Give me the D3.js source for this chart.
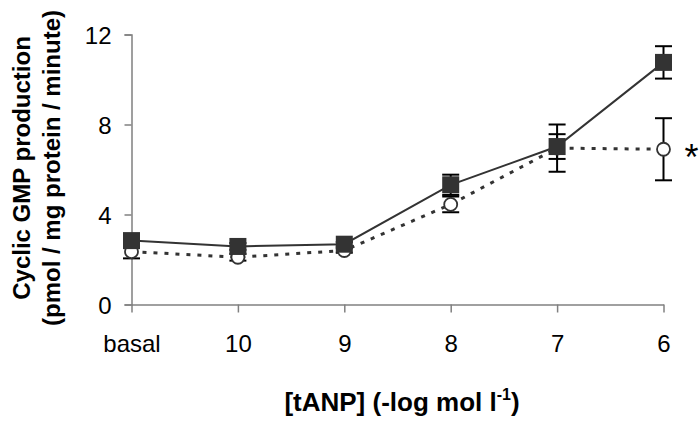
<!DOCTYPE html>
<html>
<head>
<meta charset="utf-8">
<script src="https://cdn.jsdelivr.net/npm/d3@7"></script>
<style>
  body { margin: 0; background: #fff; }
  svg { display: block; font-family: Arial, "Liberation Sans", sans-serif; }
</style>
</head>
<body>
<svg id="chart" width="699" height="441"></svg>
<script>
// concentrations of tANP (-log mol/l)
var doses = ['basal', '10', '9', '8', '7', '6'];
// filled squares, solid line
var seriesA = [2.84, 2.58, 2.68, 5.32, 7.02, 10.76];
var errA = [0.2, 0.15, 0.1, 0.45, 0.55, 0.72];
// open circles, dotted line
var seriesB = [2.35, 2.1, 2.4, 4.45, 6.95, 6.9];
var errB = [0.3, 0.15, 0.1, 0.35, 1.05, 1.38];
var yTicks = [0, 4, 8, 12];

var svg = d3.select('#chart');

var x = d3.scalePoint().domain(doses).range([131.5, 663.5]);
var y = d3.scaleLinear().domain([0, 12]).range([304.5, 34.5]);

var axisColor = '#808080';
var font = 'Arial, "Liberation Sans", sans-serif';

// y axis
var gy = svg.append('g').attr('transform', 'translate(131.5,0)')
  .call(d3.axisLeft(y).tickValues(yTicks).tickSize(7).tickPadding(13).tickFormat(d3.format('d')));
gy.select('.domain').attr('stroke', axisColor).attr('stroke-width', 1.5);
gy.selectAll('.tick line').attr('stroke', axisColor).attr('stroke-width', 1.5);
gy.selectAll('.tick text').attr('font-size', 24).attr('fill', '#000').attr('font-family', font)
  .attr('dy', '0.36em');

// x axis
var gx = svg.append('g').attr('transform', 'translate(0,304.5)')
  .call(d3.axisBottom(x).tickSize(8).tickPadding(0).tickSizeOuter(0));
gx.select('.domain').attr('stroke', axisColor).attr('stroke-width', 1.5);
gx.selectAll('.tick line').attr('stroke', axisColor).attr('stroke-width', 1.5);
gx.selectAll('.tick text').attr('font-size', 24).attr('fill', '#000').attr('font-family', font)
  .attr('y', 47).attr('dy', 0);

// axis titles
var yt = svg.append('text')
  .attr('transform', 'translate(30,168) rotate(-90)')
  .attr('text-anchor', 'middle')
  .attr('font-weight', 'bold')
  .attr('font-size', 24);
yt.append('tspan').attr('x', 0).attr('dy', 0).text('Cyclic GMP production');
yt.append('tspan').attr('x', 0).attr('dy', 30).text('(pmol / mg protein / minute)');

var xt = svg.append('text')
  .attr('x', 402).attr('y', 411)
  .attr('text-anchor', 'middle')
  .attr('font-weight', 'bold')
  .attr('font-size', 26);
xt.append('tspan').text('[tANP] (-log mol l');
xt.append('tspan').attr('font-size', 16).attr('dy', -11).text('-1');
xt.append('tspan').attr('dy', 11).text(')');

var rowsA = doses.map(function(d, i) { return {dose: d, v: seriesA[i], e: errA[i]}; });
var rowsB = doses.map(function(d, i) { return {dose: d, v: seriesB[i], e: errB[i]}; });

function errorBars(rows) {
  var g = svg.append('g').attr('stroke', '#000').attr('stroke-width', 2);
  rows.forEach(function(r) {
    var cx = x(r.dose);
    g.append('line').attr('x1', cx).attr('x2', cx).attr('y1', y(r.v - r.e)).attr('y2', y(r.v + r.e));
    g.append('line').attr('x1', cx - 8.5).attr('x2', cx + 8.5).attr('y1', y(r.v - r.e)).attr('y2', y(r.v - r.e));
    g.append('line').attr('x1', cx - 8.5).attr('x2', cx + 8.5).attr('y1', y(r.v + r.e)).attr('y2', y(r.v + r.e));
  });
}

var line = d3.line().x(function(d) { return x(d.dose); }).y(function(d) { return y(d.v); });

errorBars(rowsB);
errorBars(rowsA);

svg.append('path').datum(rowsB)
  .attr('d', line)
  .attr('fill', 'none')
  .attr('stroke', '#333')
  .attr('stroke-width', 3)
  .attr('stroke-dasharray', '4,7');

svg.append('path').datum(rowsA)
  .attr('d', line)
  .attr('fill', 'none')
  .attr('stroke', '#333')
  .attr('stroke-width', 2);

svg.selectAll('circle.b').data(rowsB).enter().append('circle')
  .attr('class', 'b')
  .attr('cx', function(d) { return x(d.dose); })
  .attr('cy', function(d) { return y(d.v); })
  .attr('r', 6.5)
  .attr('fill', '#fff')
  .attr('stroke', '#333')
  .attr('stroke-width', 1.8);

svg.selectAll('rect.a').data(rowsA).enter().append('rect')
  .attr('class', 'a')
  .attr('x', function(d) { return x(d.dose) - 8.5; })
  .attr('y', function(d) { return y(d.v) - 8.5; })
  .attr('width', 17)
  .attr('height', 17)
  .attr('fill', '#333');

// significance mark next to the last open circle
svg.append('text')
  .attr('x', x('6') + 21).attr('y', y(seriesB[5]) + 21)
  .attr('font-size', 36)
  .text('*');
</script>
</body>
</html>
